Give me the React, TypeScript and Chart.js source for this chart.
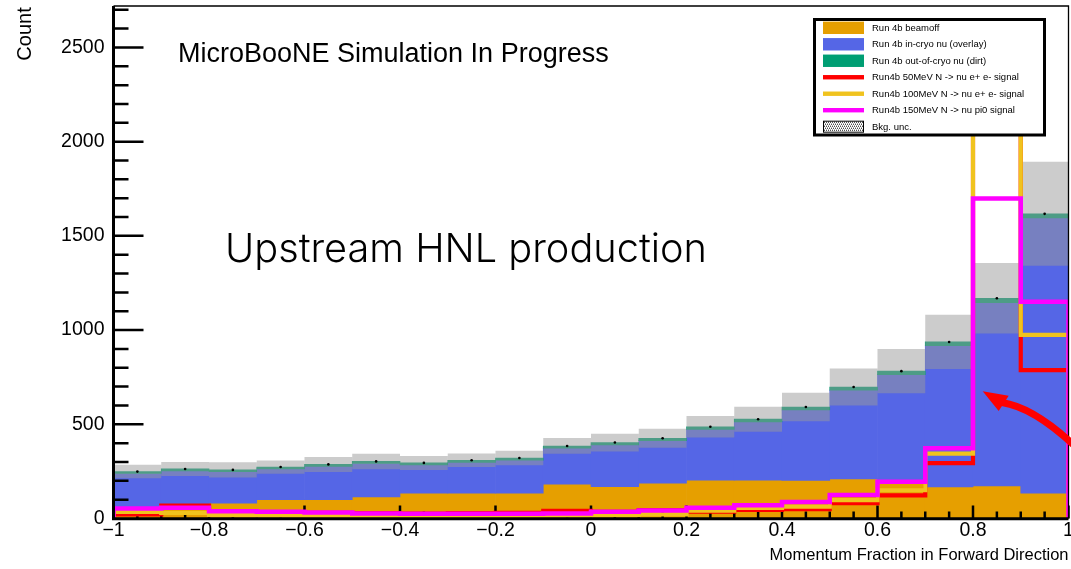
import React, { useEffect, useRef } from "react";
import { Chart, registerables } from "chart.js";

Chart.register(...registerables);

// ---------------- data ----------------
const binLowEdges = [-1, -0.9, -0.8, -0.7, -0.6, -0.5, -0.4, -0.3, -0.2, -0.1, 0, 0.1, 0.2, 0.3, 0.4, 0.5, 0.6, 0.7, 0.8, 0.9];
const binWidth = 0.1;

const beamoff = [45, 55, 82, 100, 100, 114, 134, 134, 134, 182, 169, 188, 204, 204, 202, 210, 195, 167, 173, 134];
const overlay = [194, 198, 166, 163, 177, 178, 150, 164, 175, 191, 221, 225, 269, 308, 374, 471, 569, 750, 973, 1461];
const dirt = [10, 10, 10, 10, 10, 11, 11, 11, 12, 12, 13, 13, 14, 15, 16, 17, 18, 20, 23, 22];
const bkgUnc = [36, 37, 40, 35, 40, 41, 37, 36, 38, 42, 47, 50, 57, 66, 76, 98, 117, 144, 187, 276];

const sig50 = [22, 68, 35, 32, 30, 28, 26, 28, 30, 40, 35, 45, 36, 45, 49, 81, 123, 294, 2200, 788];
const sig100 = [35, 30, 18, 15, 14, 14, 14, 14, 14, 15, 18, 22, 42, 56, 63, 97, 150, 344, 2500, 975];
const sig150 = [53, 57, 38, 36, 32, 27, 25, 25, 25, 27, 36, 42, 57, 70, 88, 125, 195, 373, 1698, 1151];

const xTickValues = [-1, -0.8, -0.6, -0.4, -0.2, 0, 0.2, 0.4, 0.6, 0.8, 1];
const yTickValues = [0, 500, 1000, 1500, 2000, 2500];

const legendLabels = [
  "Run 4b beamoff",
  "Run 4b in-cryo nu (overlay)",
  "Run 4b out-of-cryo nu (dirt)",
  "Run4b 50MeV N -> nu e+ e- signal",
  "Run4b 100MeV N -> nu e+ e- signal",
  "Run4b 150MeV N -> nu pi0 signal",
  "Bkg. unc.",
];
const xTitle = "Momentum Fraction in Forward Direction";
const yTitle = "Count";
const headerText = "MicroBooNE Simulation In Progress";
const noteText = "Upstream HNL production";

// arrow annotation in data units: tip, wing A, wing B / shaft start, control, shaft end
const arrowHead = [
  [0.8203, 675],
  [0.8538, 571],
  [0.8747, 652],
];
const arrowShaft = [
  [0.8607, 616],
  [0.9298, 589],
  [1.0199, 369],
];

const X_MIN = -1;
const X_MAX = 1;
const Y_MAX = 2720;

// ---------------- style ----------------
const C_BEAMOFF = "#E69F00";
const C_OVERLAY = "#5566E6";
const C_DIRT = "#009E73";
const C_UNC = "rgba(153,153,153,0.5)";
const C_SIG50 = "#FF0000";
const C_SIG100 = "#F0C31E";
const C_SIG150 = "#FF00FF";
const FONT = '"Liberation Sans", Arial, Helvetica, sans-serif';
const NOTE_FONT = 'Inter, Roboto, "Open Sans", sans-serif';

Chart.defaults.font.family = FONT;
Chart.defaults.color = "#000";

const centers = binLowEdges.map((e) => Math.round((e + binWidth / 2) * 1000) / 1000);
const lowBase = beamoff.map(() => 0);
const overlayTop = beamoff.map((b, i) => b + overlay[i]);
const totals = overlayTop.map((v, i) => v + dirt[i]);

function stepPoints(vals: number[]) {
  const last = binLowEdges.length - 1;
  const right = Math.round((binLowEdges[last] + binWidth) * 1000) / 1000;
  const pts: { x: number; y: number }[] = [{ x: binLowEdges[0], y: 0 }];
  vals.forEach((v, i) => pts.push({ x: binLowEdges[i], y: v }));
  pts.push({ x: right, y: vals[last] });
  pts.push({ x: right, y: 0 });
  return pts;
}

function floating(lo: number[], hi: number[]) {
  return centers.map((c, i) => ({ x: c, y: [lo[i], hi[i]] }));
}

function fmtX(v: number) {
  const r = Math.round(v * 10) / 10;
  if (r === 0) return "0";
  return r < 0 ? "\u2212" + String(-r) : String(r);
}

const SIG50_INDEX = 2;

function drawTicks(chart: any) {
  const { ctx, chartArea: a, scales } = chart;
  const x = scales.x;
  const y = scales.y;
  ctx.save();
  ctx.strokeStyle = "#000";
  ctx.lineWidth = 2.5;
  ctx.lineCap = "butt";
  ctx.beginPath();
  for (let i = 0; i <= 40; i++) {
    const v = X_MIN + i * 0.05;
    const px = x.getPixelForValue(v);
    const len = i % 4 === 0 ? 13 : 7;
    ctx.moveTo(px, a.bottom);
    ctx.lineTo(px, a.bottom - len);
  }
  for (let v = 100; v <= Y_MAX; v += 100) {
    const py = y.getPixelForValue(v);
    const len = v % 500 === 0 ? 30 : 15;
    ctx.moveTo(a.left, py);
    ctx.lineTo(a.left + len, py);
  }
  ctx.stroke();
  ctx.restore();
}

function drawAxes(chart: any) {
  const { ctx, chartArea: a } = chart;
  ctx.save();
  ctx.strokeStyle = "#000";
  ctx.lineWidth = 1.3;
  ctx.beginPath();
  ctx.moveTo(a.left, a.top);
  ctx.lineTo(a.right, a.top);
  ctx.lineTo(a.right, a.bottom);
  ctx.stroke();
  ctx.lineWidth = 3;
  ctx.beginPath();
  ctx.moveTo(a.left, a.top);
  ctx.lineTo(a.left, a.bottom + 1.7);
  ctx.moveTo(a.left - 1.5, a.bottom + 0.2);
  ctx.lineTo(a.right, a.bottom + 0.2);
  ctx.stroke();
  ctx.restore();
}

function drawLegend(chart: any) {
  const { ctx, chartArea: a } = chart;
  const bx = a.right - 254;
  const by = a.top + 13.5;
  const bw = 230;
  const bh = 115.5;
  ctx.save();
  ctx.fillStyle = "#fff";
  ctx.fillRect(bx, by, bw, bh);
  ctx.strokeStyle = "#000";
  ctx.lineWidth = 3;
  ctx.strokeRect(bx, by, bw, bh);

  const sx = bx + 8.5;
  const sw = 41;
  const tx = bx + 57.5;
  const fills = [C_BEAMOFF, C_OVERLAY, C_DIRT];
  const lines = [C_SIG50, C_SIG100, C_SIG150];
  ctx.font = `9.5px ${FONT}`;
  ctx.textBaseline = "middle";
  ctx.textAlign = "left";
  legendLabels.forEach((lab, i) => {
    const cy = by + 8.3 + i * 16.48;
    if (i < 3) {
      ctx.fillStyle = fills[i];
      ctx.fillRect(sx, cy - 6.2, sw, 12.4);
    } else if (i < 6) {
      ctx.fillStyle = lines[i - 3];
      ctx.fillRect(sx, cy - 2.2, sw, 4.4);
    } else {
      ctx.fillStyle = "#fff";
      ctx.fillRect(sx, cy - 6, sw, 12);
      ctx.fillStyle = "#000";
      for (let yy = 1; yy < 11; yy += 2) {
        for (let xx = (yy % 4 === 1 ? 1 : 2); xx < sw - 1; xx += 2) {
          ctx.fillRect(sx + xx, cy - 6 + yy, 1, 1);
        }
      }
      ctx.lineWidth = 1;
      ctx.strokeStyle = "#000";
      ctx.strokeRect(sx + 0.5, cy - 5.5, sw - 1, 11);
    }
    ctx.fillStyle = "#000";
    ctx.fillText(lab, tx, cy + 0.5);
  });
  ctx.restore();
}

function drawTexts(chart: any) {
  const { ctx, chartArea: a } = chart;
  ctx.save();
  ctx.fillStyle = "#000";
  ctx.textBaseline = "alphabetic";

  ctx.font = `27px ${FONT}`;
  ctx.textAlign = "left";
  ctx.fillText(headerText, a.left + 64.5, a.top + 55.7);

  // light note text, fitted to its width
  const target = 482;
  ctx.font = `300 44px ${NOTE_FONT}`;
  const w = ctx.measureText(noteText).width;
  const size = 44 * (target / w);
  ctx.font = `300 ${size.toFixed(2)}px ${NOTE_FONT}`;
  ctx.fillText(noteText, a.left + 111.5, a.top + 255.7);

  ctx.font = `16.5px ${FONT}`;
  ctx.textAlign = "right";
  ctx.fillText(xTitle, a.right, a.bottom + 41.5);

  ctx.font = `20px ${FONT}`;
  ctx.translate(30.7, a.top + 1.3);
  ctx.rotate(-Math.PI / 2);
  ctx.textAlign = "right";
  ctx.fillText(yTitle, 0, 0);
  ctx.restore();
}

function drawArrow(chart: any) {
  const { ctx, scales } = chart;
  const x = scales.x;
  const y = scales.y;
  const P = (p: number[]) => [x.getPixelForValue(p[0]), y.getPixelForValue(p[1])];
  const [s0, s1, s2] = arrowShaft.map(P);
  const [h0, h1, h2] = arrowHead.map(P);
  ctx.save();
  ctx.strokeStyle = C_SIG50;
  ctx.fillStyle = C_SIG50;
  ctx.lineWidth = 7;
  ctx.lineCap = "butt";
  ctx.beginPath();
  ctx.moveTo(s0[0], s0[1]);
  ctx.quadraticCurveTo(s1[0], s1[1], s2[0], s2[1]);
  ctx.stroke();
  ctx.beginPath();
  ctx.moveTo(h0[0], h0[1]);
  ctx.lineTo(h1[0], h1[1]);
  ctx.lineTo(h2[0], h2[1]);
  ctx.closePath();
  ctx.fill();
  ctx.restore();
}

const decorPlugin = {
  id: "rootDecor",
  beforeDatasetDraw(chart: any, args: any) {
    if (args.index === SIG50_INDEX) drawTicks(chart);
  },
  afterDatasetsDraw(chart: any) {
    drawAxes(chart);
    drawArrow(chart);
    drawLegend(chart);
    drawTexts(chart);
  },
};

function lineDs(label: string, vals: number[], color: string, width: number, order: number) {
  return {
    type: "line" as const,
    label,
    data: stepPoints(vals),
    borderColor: color,
    backgroundColor: color,
    borderWidth: width,
    stepped: "before" as const,
    pointRadius: 0,
    pointHoverRadius: 0,
    fill: false,
    borderJoinStyle: "miter" as const,
    borderCapStyle: "butt" as const,
    order,
  };
}

function barDs(label: string, data: any[], color: string, order: number, inflate: any) {
  return {
    type: "bar" as const,
    label,
    data,
    backgroundColor: color,
    borderWidth: 0,
    grouped: false,
    barPercentage: 1,
    categoryPercentage: 1,
    inflateAmount: inflate,
    order,
  };
}

export default function App() {
  const ref = useRef<HTMLCanvasElement>(null);

  useEffect(() => {
    document.body.style.margin = "0";
    const canvas = ref.current;
    if (!canvas) return;
    const chart = new Chart(canvas, {
      type: "bar",
      data: {
        datasets: [
          lineDs(legendLabels[5], sig150, C_SIG150, 4.5, 0),
          lineDs(legendLabels[4], sig100, C_SIG100, 4.2, 1),
          lineDs(legendLabels[3], sig50, C_SIG50, 4.2, 2),
          {
            type: "line",
            label: "Total background",
            data: centers.map((c, i) => ({ x: c, y: totals[i] })),
            showLine: false,
            pointRadius: 1.3,
            pointHoverRadius: 1.3,
            pointBackgroundColor: "#000",
            pointBorderWidth: 0,
            order: 3,
          },
          barDs(legendLabels[6], floating(totals.map((t, i) => t - bkgUnc[i]), totals.map((t, i) => t + bkgUnc[i])), C_UNC, 4, 0),
          barDs(legendLabels[2], floating(overlayTop, totals), C_DIRT, 5, "auto"),
          barDs(legendLabels[1], floating(beamoff, overlayTop), C_OVERLAY, 6, "auto"),
          barDs(legendLabels[0], floating(lowBase, beamoff), C_BEAMOFF, 7, "auto"),
        ] as any,
      },
      options: {
        animation: false,
        responsive: false,
        maintainAspectRatio: false,
        events: [],
        layout: { padding: { top: 6, right: 2.5, left: 0, bottom: 0 } },
        plugins: { legend: { display: false }, tooltip: { enabled: false } },
        scales: {
          x: {
            type: "linear",
            min: X_MIN,
            max: X_MAX,
            offset: false,
            grid: { display: false, drawTicks: false },
            border: { display: false },
            afterBuildTicks: (s: any) => {
              s.ticks = xTickValues.map((v) => ({ value: v }));
            },
            ticks: {
              autoSkip: false,
              maxRotation: 0,
              minRotation: 0,
              padding: 0,
              color: "#000",
              font: { size: 19.5, family: FONT },
              callback: (v: any) => fmtX(Number(v)),
            },
            afterFit: (s: any) => {
              s.height = 50.5;
              s.paddingLeft = 0;
              s.paddingRight = 0;
            },
          },
          y: {
            type: "linear",
            min: 0,
            max: Y_MAX,
            grid: { display: false, drawTicks: false },
            border: { display: false },
            afterBuildTicks: (s: any) => {
              s.ticks = yTickValues.map((v) => ({ value: v }));
            },
            ticks: {
              autoSkip: false,
              padding: 9,
              color: "#000",
              font: { size: 19.5, family: FONT },
              callback: (v: any) => String(v),
            },
            afterFit: (s: any) => {
              s.width = 113.5;
              s.paddingTop = 0;
              s.paddingBottom = 0;
            },
          },
        },
      } as any,
      plugins: [decorPlugin],
    });
    return () => chart.destroy();
  }, []);

  return (
    <div style={{ position: "absolute", left: 0, top: 0, width: 1071, height: 569, background: "#fff" }}>
      <canvas ref={ref} width={1071} height={569} style={{ width: 1071, height: 569, display: "block" }} />
    </div>
  );
}
